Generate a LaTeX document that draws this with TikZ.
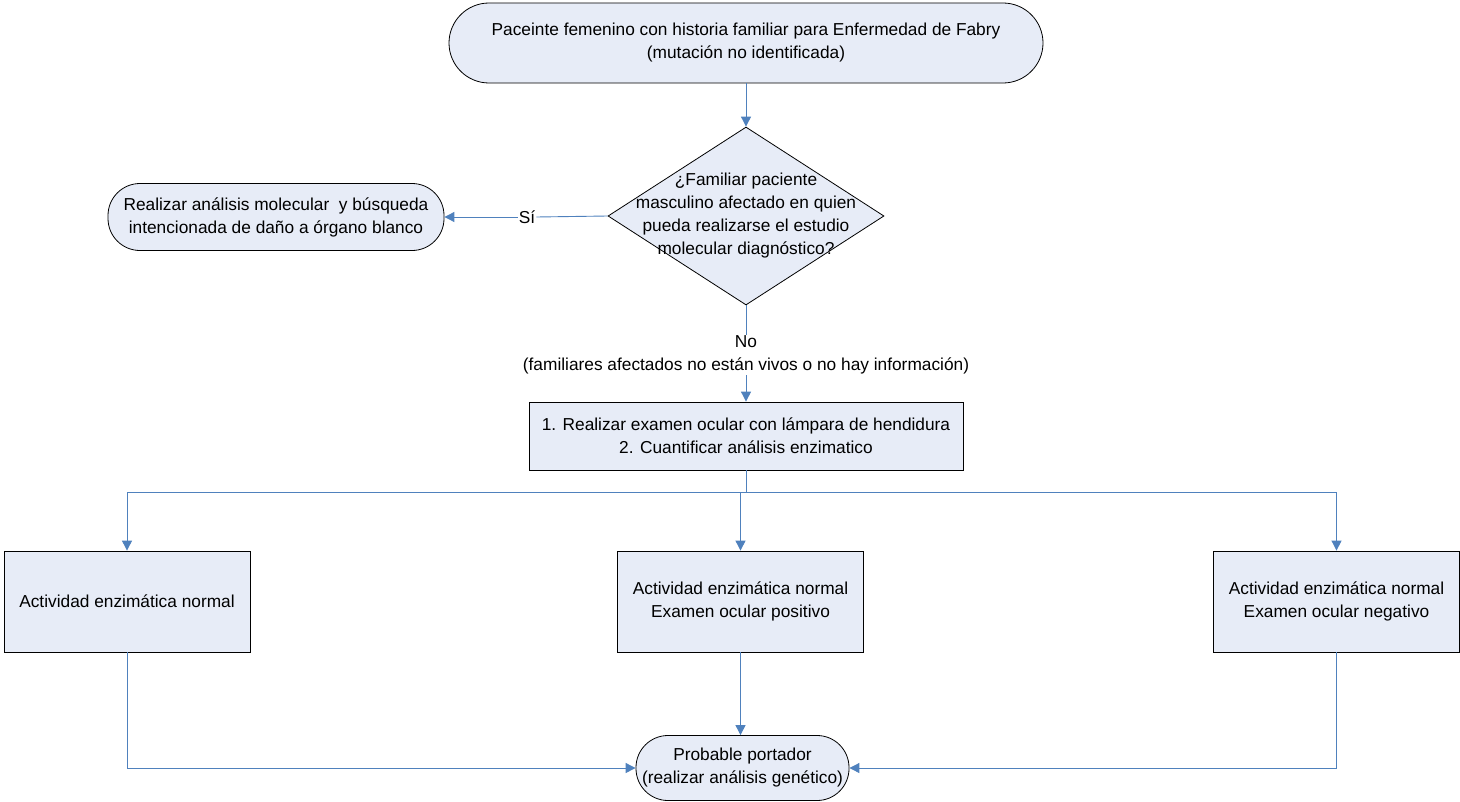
\documentclass[tikz,border=0pt]{standalone}
\usepackage{fontspec}
\setmainfont{Liberation Sans}
\usetikzlibrary{shapes.geometric,arrows.meta}
\definecolor{boxfill}{RGB}{231,236,247}
\definecolor{linkblue}{RGB}{79,129,189}
\tikzset{
  txt/.style={font=\fontsize{17.3bp}{23bp}\selectfont, align=center},
  box/.style={draw=black, line width=0.8bp, fill=boxfill, txt, inner sep=0pt},
  link/.style={draw=linkblue, line width=0.9bp},
  arr/.style={link, -{Triangle[length=10bp,width=10bp]}},
}
\begin{document}
\begin{tikzpicture}[x=1bp,y=-1bp]
\useasboundingbox (0,0) rectangle (1460,801);
% nodes
\node[box, rounded corners=40bp, minimum width=594bp, minimum height=80bp] (top) at (746,43)
  {Paceinte femenino con historia familiar para Enfermedad de Fabry\\(mutación no identificada)};
\node[draw=black, line width=0.8bp, fill=boxfill, diamond, minimum width=276bp, minimum height=178bp, inner sep=0pt] (dec) at (746,216) {};
\node[txt] (dectext) at (746,216) {¿Familiar paciente\\masculino afectado en quien\\pueda realizarse el estudio\\molecular diagnóstico?};
\node[box, rounded corners=32bp, minimum width=336bp, minimum height=67bp] (mol) at (276,217)
  {Realizar análisis molecular\ \ y búsqueda\\intencionada de daño a órgano blanco};
\node[txt, fill=white, inner sep=1pt] (si) at (527,217) {Sí};
\node[txt, inner sep=1pt] (no) at (746,355) {No\\(familiares afectados no están vivos o no hay información)};
\node[box, minimum width=434bp, minimum height=68bp] (exam) at (746,436)
  {1. Realizar examen ocular con lámpara de hendidura\\2. Cuantificar análisis enzimatico};
\node[box, minimum width=246bp, minimum height=101bp] (b1) at (127,601.5) {Actividad enzimática normal};
\node[box, minimum width=246bp, minimum height=101bp] (b2) at (740.5,601.5) {Actividad enzimática normal\\Examen ocular positivo};
\node[box, minimum width=246bp, minimum height=101bp] (b3) at (1336.5,601.5) {Actividad enzimática normal\\Examen ocular negativo};
\node[box, rounded corners=32bp, minimum width=213bp, minimum height=65bp] (end) at (742.5,768)
  {Probable portador\\(realizar análisis genético)};
\coordinate (split) at (746,492);
% connectors
\draw[arr] (top) -- (dec);
\draw[link] (dec.west) -- (si.east);
\draw[arr] (si.west) -- (mol.east);
\draw[link] (dec.south) -- (no.north);
\draw[arr] (no.south -| exam.north) -- (exam.north);
\draw[link] (exam.south) -- (split);
\draw[arr] (split) -| (b1.north);
\draw[arr] (split) -| (b3.north);
\draw[arr] (split -| b2.north) -- (b2.north);
\draw[arr] (b1.south) |- (end.west);
\draw[arr] (b3.south) |- (end.east);
\draw[arr] (b2.south) -- (end.north -| b2.south);
\end{tikzpicture}
\end{document}
